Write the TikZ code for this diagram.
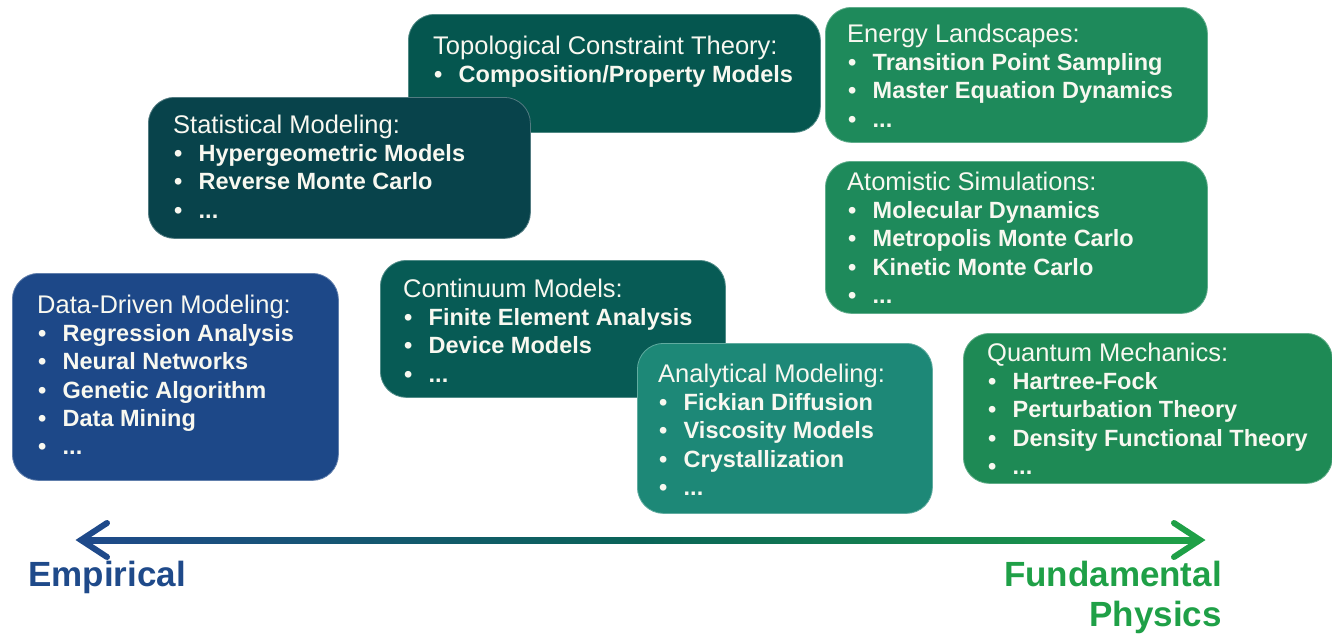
\documentclass[tikz,border=0pt]{standalone}
\usepackage{fontspec}
\setmainfont{Liberation Sans}
\usetikzlibrary{calc}
\definecolor{cData}{HTML}{1D4888}
\definecolor{cStat}{HTML}{08434B}
\definecolor{cTopo}{HTML}{05564F}
\definecolor{cCont}{HTML}{075B55}
\definecolor{cAnal}{HTML}{1D8877}
\definecolor{cGreen}{HTML}{1E8A5B}
\definecolor{cQuant}{HTML}{1E8A55}
\definecolor{cEmp}{HTML}{1F4A8A}
\definecolor{cFund}{HTML}{1FA047}
\definecolor{cMid}{HTML}{0A6458}
\definecolor{txtcol}{HTML}{F8F8F0}
\newcommand{\boxhead}[1]{\rule{0pt}{20pt}{\fontsize{25.5}{28.3}\selectfont #1}}
\newcommand{\boxitem}[1]{{\fontsize{23.5}{28.3}\selectfont\bfseries\makebox[25.5pt][l]{\hspace{1pt}•}#1}}
\tikzset{
  box/.style={rectangle, rounded corners=26pt, inner sep=0pt, anchor=north west, draw=white!30!#1, line width=0.8pt, fill=#1},
  txt/.style={inner sep=0pt, anchor=north west, align=left, text=txtcol, font=\fontsize{25.5}{28.3}\selectfont},
  endlabel/.style={inner sep=0pt, font=\fontsize{35}{40}\selectfont\bfseries}
}
\begin{document}
\begin{tikzpicture}[x=1pt,y=-1pt]
\useasboundingbox (0,0) rectangle (1332,635);
% boxes
\node[box=cTopo, minimum width=412pt, minimum height=118pt] (topo) at (408,14) {};
\node[box=cStat, minimum width=382pt, minimum height=141pt] (stat) at (148,97) {};
\node[box=cData, minimum width=326pt, minimum height=207pt] (data) at (12,273) {};
\node[box=cCont, minimum width=345pt, minimum height=137pt] (cont) at (380,260) {};
\node[box=cAnal, minimum width=295pt, minimum height=170pt] (anal) at (637,343) {};
\node[box=cGreen, minimum width=382pt, minimum height=135pt] (energy) at (825,7) {};
\node[box=cGreen, minimum width=382pt, minimum height=152pt] (atom) at (825,161) {};
\node[box=cQuant, minimum width=369pt, minimum height=150pt] (quant) at (963,333) {};
% texts
\node[txt] (topot) at (433,34) {\boxhead{Topological Constraint Theory:}\\\boxitem{Composition/Property Models}};
\node[txt] (statt) at (173,113) {\boxhead{Statistical Modeling:}\\\boxitem{Hypergeometric Models}\\\boxitem{Reverse Monte Carlo}\\\boxitem{...}};
\node[txt] (datat) at (37,293) {\boxhead{Data-Driven Modeling:}\\\boxitem{Regression Analysis}\\\boxitem{Neural Networks}\\\boxitem{Genetic Algorithm}\\\boxitem{Data Mining}\\\boxitem{...}};
\node[txt] (contt) at (403,277) {\boxhead{Continuum Models:}\\\boxitem{Finite Element Analysis}\\\boxitem{Device Models}\\\boxitem{...}};
\node[txt] (analt) at (658,362) {\boxhead{Analytical Modeling:}\\\boxitem{Fickian Diffusion}\\\boxitem{Viscosity Models}\\\boxitem{Crystallization}\\\boxitem{...}};
\node[txt] (energyt) at (847,22) {\boxhead{Energy Landscapes:}\\\boxitem{Transition Point Sampling}\\\boxitem{Master Equation Dynamics}\\\boxitem{...}};
\node[txt] (atomt) at (847,170) {\boxhead{Atomistic Simulations:}\\\boxitem{Molecular Dynamics}\\\boxitem{Metropolis Monte Carlo}\\\boxitem{Kinetic Monte Carlo}\\\boxitem{...}};
\node[txt] (quantt) at (987,341) {\boxhead{Quantum Mechanics:}\\\boxitem{Hartree-Fock}\\\boxitem{Perturbation Theory}\\\boxitem{Density Functional Theory}\\\boxitem{...}};
% axis arrow
\coordinate (L) at (81,540);
\coordinate (R) at (1200,540);
\shade[left color=cEmp, right color=cFund, middle color=cMid] ($(L)+(4,-3)$) rectangle ($(R)+(-4,3)$);
\draw[cEmp, line width=6pt, line join=miter, line cap=round] ($(L)+(26,-17)$) -- (L) -- ($(L)+(26,17)$);
\draw[cFund, line width=6pt, line join=miter, line cap=round] ($(R)+(-26,-17)$) -- (R) -- ($(R)+(-26,17)$);
% end labels
\node[endlabel, text=cEmp, anchor=base west] (emp) at (28,586) {Empirical};
\node[endlabel, text=cFund, anchor=north east, align=right] (fund) at (1222,560) {\rule{0pt}{26pt}Fundamental\\Physics};
\end{tikzpicture}
\end{document}
